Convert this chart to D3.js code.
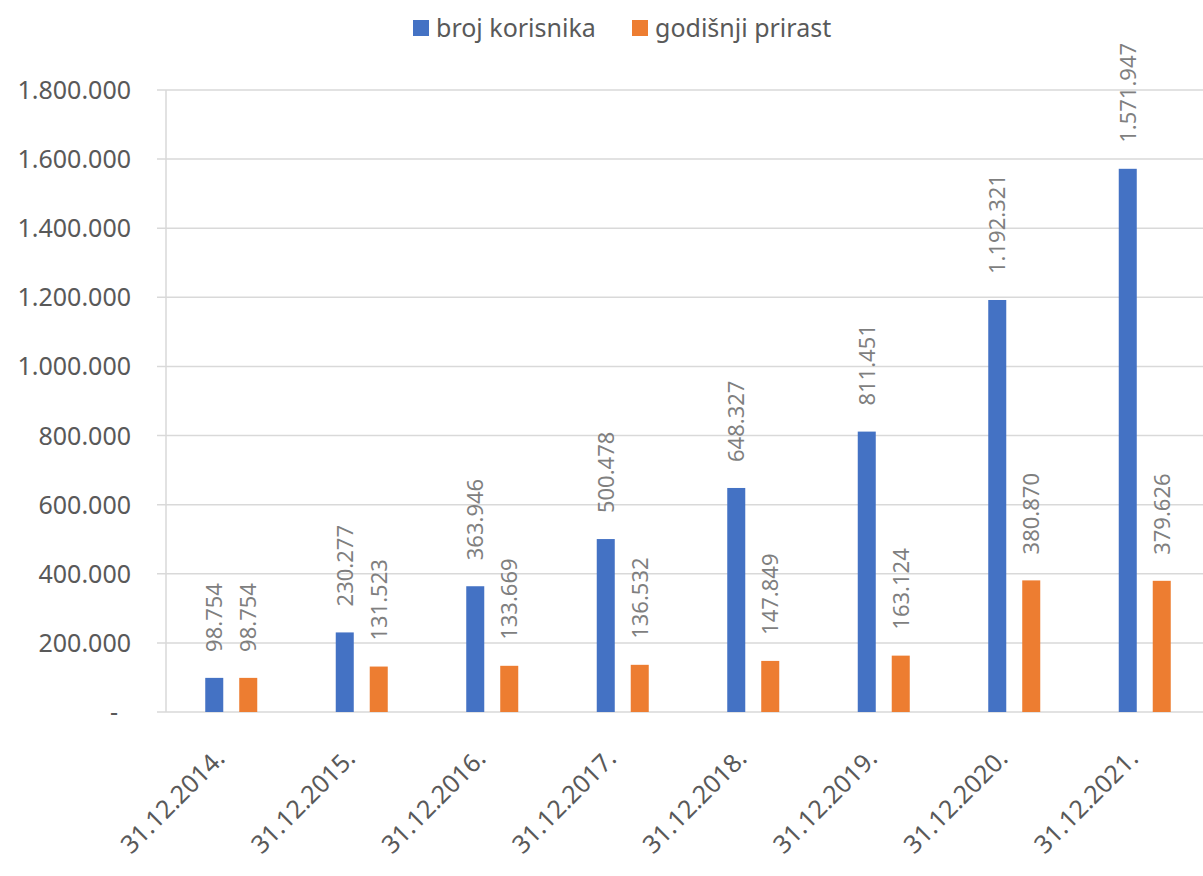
<!DOCTYPE html>
<html>
<head>
<meta charset="utf-8">
<script src="https://cdn.jsdelivr.net/npm/d3@7"></script>
<style>
  body { margin: 0; background: #fff; }
  text { font-family: "Noto Sans", "Open Sans", sans-serif; }
</style>
</head>
<body>
<div id="chart"></div>
<script>
const categories = ["31.12.2014.", "31.12.2015.", "31.12.2016.", "31.12.2017.", "31.12.2018.", "31.12.2019.", "31.12.2020.", "31.12.2021."];
const seriesNames = ["broj korisnika", "godišnji prirast"];
const brojKorisnika = [98754, 230277, 363946, 500478, 648327, 811451, 1192321, 1571947];
const godisnjiPrirast = [98754, 131523, 133669, 136532, 147849, 163124, 380870, 379626];
const yTicks = [0, 200000, 400000, 600000, 800000, 1000000, 1200000, 1400000, 1600000, 1800000];
const colors = ["#4472C4", "#ED7D31"];

const W = 1203, H = 876;
const plotLeft = 166, plotRight = 1210, plotTop = 90, plotBottom = 712;

const locale = d3.formatLocale({ decimal: ",", thousands: ".", grouping: [3], currency: ["", ""] });
const fmt = locale.format(",d");

const svg = d3.select("#chart").append("svg")
  .attr("width", W).attr("height", H);

const x = d3.scaleBand().domain(categories).range([plotLeft, plotRight]);
const x1 = d3.scaleBand().domain(seriesNames).range([-26, 26]).paddingInner(0.47);
const y = d3.scaleLinear().domain([0, 1800000]).range([plotBottom, plotTop]);

// gridlines
svg.append("g")
  .selectAll("line")
  .data(yTicks)
  .enter()
  .append("line")
  .attr("x1", plotLeft - 9)
  .attr("x2", W)
  .attr("y1", d => y(d))
  .attr("y2", d => y(d))
  .attr("stroke", "#d9d9d9")
  .attr("stroke-width", 1.5);

// vertical axis line
svg.append("line")
  .attr("x1", plotLeft).attr("x2", plotLeft)
  .attr("y1", y(1800000)).attr("y2", plotBottom)
  .attr("stroke", "#d9d9d9")
  .attr("stroke-width", 1.5);

// y labels
svg.append("g")
  .selectAll("text")
  .data(yTicks)
  .enter()
  .append("text")
  .attr("x", d => d === 0 ? 118 : 131)
  .attr("y", d => y(d))
  .attr("dy", "0.36em")
  .attr("text-anchor", "end")
  .attr("fill", "#595959")
  .style("font-size", "25px")
  .text(d => d === 0 ? "-" : fmt(d));

const data = categories.map((c, i) => ({
  cat: c,
  values: [
    { name: seriesNames[0], value: brojKorisnika[i], color: colors[0] },
    { name: seriesNames[1], value: godisnjiPrirast[i], color: colors[1] },
  ],
}));

const groups = svg.selectAll(".grp")
  .data(data)
  .enter()
  .append("g")
  .attr("class", "grp")
  .attr("transform", d => "translate(" + (x(d.cat) + x.bandwidth() / 2) + ",0)");

groups.selectAll("rect")
  .data(d => d.values)
  .enter()
  .append("rect")
  .attr("x", d => x1(d.name))
  .attr("width", x1.bandwidth())
  .attr("y", d => y(d.value))
  .attr("height", d => plotBottom - y(d.value))
  .attr("fill", d => d.color);

groups.selectAll(".lbl")
  .data(d => d.values)
  .enter()
  .append("text")
  .attr("class", "lbl")
  .attr("transform", d => "translate(" + (x1(d.name) + x1.bandwidth() / 2) + "," + (y(d.value) - 26) + ") rotate(-90)")
  .attr("dy", "0.36em")
  .attr("text-anchor", "start")
  .attr("fill", "#7f7f7f")
  .style("font-size", "22px")
  .text(d => fmt(d.value));

// x labels
svg.append("g")
  .selectAll("text")
  .data(categories)
  .enter()
  .append("text")
  .attr("transform", d => "translate(" + (x(d) + x.bandwidth() / 2 - 5) + "," + (plotBottom + 48) + ") rotate(-45)")
  .attr("text-anchor", "end")
  .attr("fill", "#595959")
  .style("font-size", "25px")
  .text(d => d);

// legend
const legend = svg.append("g");
const legendX = [413, 632];
seriesNames.forEach((s, i) => {
  legend.append("rect")
    .attr("x", legendX[i]).attr("y", 20)
    .attr("width", 16).attr("height", 16)
    .attr("fill", colors[i]);
  legend.append("text")
    .attr("x", legendX[i] + 23).attr("y", 28)
    .attr("dy", "0.36em")
    .attr("fill", "#595959")
    .style("font-size", "25px")
    .text(s);
});
</script>
</body>
</html>
